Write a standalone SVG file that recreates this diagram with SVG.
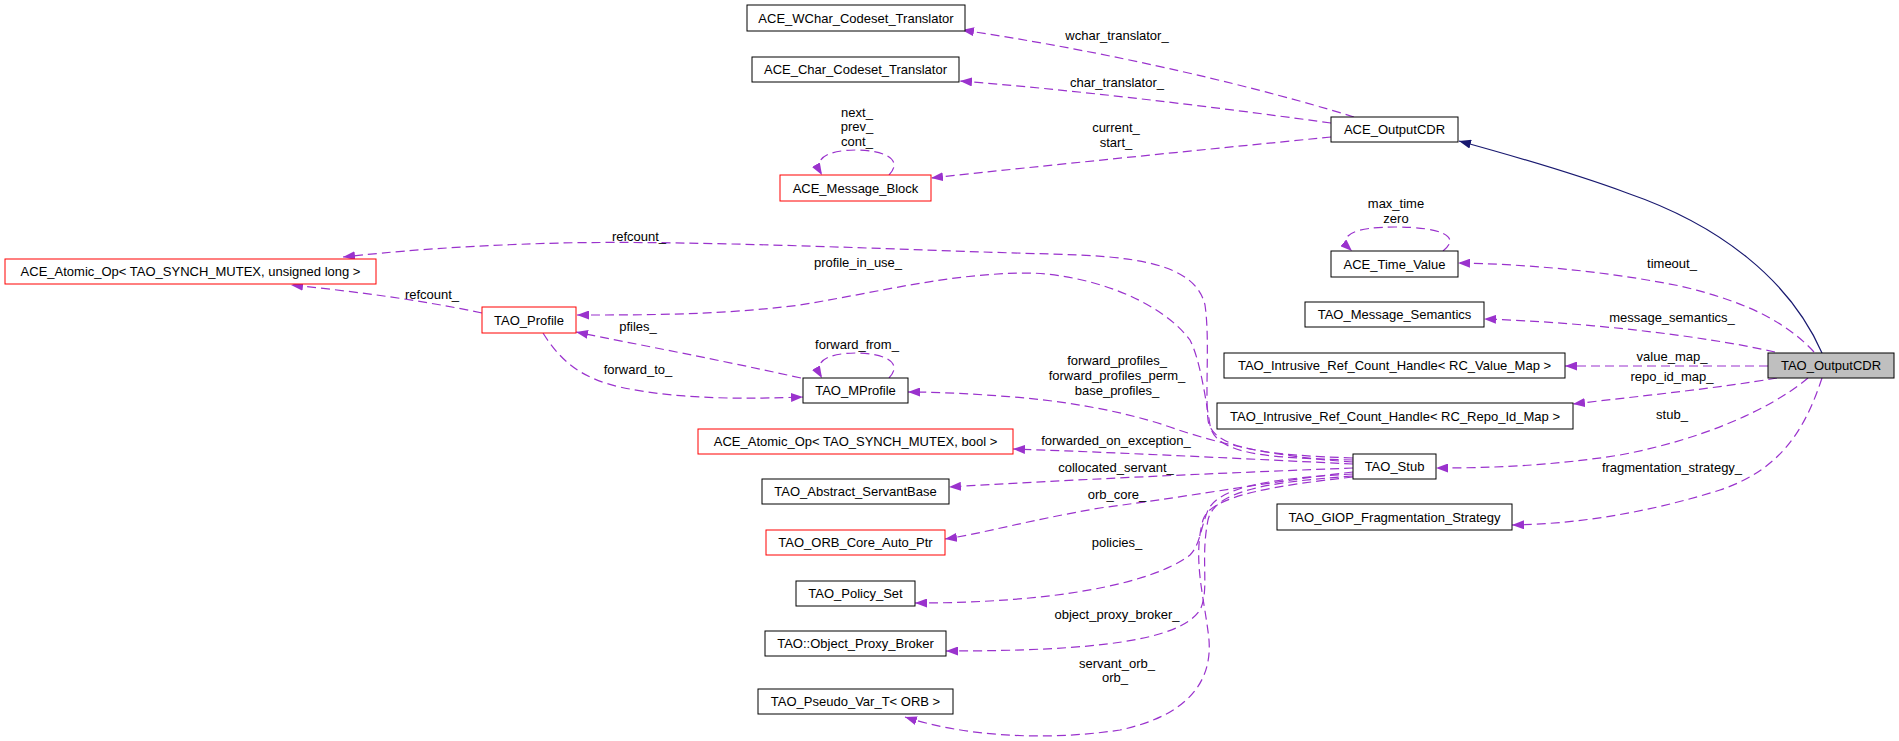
<svg xmlns="http://www.w3.org/2000/svg" width="1899" height="741" viewBox="0 0 1899 741">
<style>
text{font-family:"Liberation Sans",Arial,sans-serif;font-size:13px;fill:#000;text-anchor:middle}
.n rect{fill:#fff;stroke:#000;stroke-width:1}
.n rect.red{stroke:#ff0000}
.n rect.cur{fill:#bfbfbf}
.e path{fill:none;stroke:#9a32cd;stroke-width:1.2;stroke-dasharray:9,5;marker-end:url(#ap)}
.e path.inh{stroke:#191970;stroke-dasharray:none;marker-end:url(#an)}
</style>
<defs>
<marker id="ap" markerUnits="userSpaceOnUse" viewBox="0 0 12 9" refX="12" refY="4.5" markerWidth="12" markerHeight="9" orient="auto"><path d="M0,0 L12,4.5 L0,9 z" fill="#9a32cd"/></marker>
<marker id="an" markerUnits="userSpaceOnUse" viewBox="0 0 12 9" refX="12" refY="4.5" markerWidth="12" markerHeight="9" orient="auto"><path d="M0,0 L12,4.5 L0,9 z" fill="#191970"/></marker>
</defs>
<rect width="1899" height="741" fill="#fff"/>
<g id="edges" class="e">
<path class="inh" d="M1822,353 C1790,280 1720,225 1627,193 C1570,172 1510,155 1459,141"/>
<path d="M1814,352 C1780,315 1730,298 1680,286 C1600,270 1520,264 1458,263"/>
<path d="M1775,352 C1700,335 1580,322 1484,319"/>
<path d="M1768,366 L1565,366"/>
<path d="M1777,378 C1720,388 1640,396 1573,404"/>
<path d="M1808,378 C1770,410 1700,440 1620,455 C1550,466 1490,468 1436,468"/>
<path d="M1822,378 C1805,430 1780,470 1720,490 C1650,512 1580,524 1512,525"/>
<path d="M1354,117 C1300,100 1150,58 962,30"/>
<path d="M1331,123 C1250,112 1100,92 960,81"/>
<path d="M1331,137 C1200,150 1050,165 931,178"/>
<path d="M889,175 C905,158 880,150 857,150 C828,150 812,158 822,175"/>
<path d="M1443,251 C1462,236 1440,227 1395,227 C1355,227 1335,235 1352,251"/>
<path d="M889,378 C905,361 880,353 857,353 C828,353 812,361 822,378"/>
<path d="M482,313 C420,300 360,292 291,285"/>
<path d="M801,378 C720,360 640,345 576,332"/>
<path d="M543,333 C560,360 580,378 620,387 C680,400 750,399 803,397"/>
<path d="M1353,458 C1270,455 1212,450 1208,420 C1205,390 1210,340 1205,305 C1195,262 1130,256 1050,254 C900,250 700,240 560,243 C450,246 390,252 343,257"/>
<path d="M1353,460 C1270,458 1215,455 1210,425 C1205,395 1200,360 1190,340 C1160,300 1090,275 1030,273 C950,273 880,292 800,305 C720,315 650,315 577,315"/>
<path d="M1353,462 C1290,458 1230,448 1170,427 C1120,410 1060,400 1000,396 C960,393 930,392 908,392"/>
<path d="M1353,464 C1250,459 1130,453 1013,449"/>
<path d="M1353,468 C1250,472 1100,478 949,487"/>
<path d="M1353,472 C1280,480 1200,495 1100,508 C1030,520 980,534 945,539"/>
<path d="M1353,474 C1280,478 1220,485 1208,510 C1200,530 1200,545 1190,555 C1150,585 1050,603 915,603"/>
<path d="M1353,476 C1270,482 1215,490 1208,520 C1200,560 1210,590 1200,610 C1180,640 1100,651 946,651"/>
<path d="M1353,477 C1280,485 1210,495 1203,520 C1192,560 1205,600 1209,640 C1212,680 1190,715 1120,730 C1040,742 960,735 905,717"/>
<text x="1672" y="268">timeout_</text>
<text x="1672" y="322">message_semantics_</text>
<text x="1672" y="361">value_map_</text>
<text x="1672" y="381">repo_id_map_</text>
<text x="1672" y="419">stub_</text>
<text x="1672" y="472">fragmentation_strategy_</text>
<text x="1117" y="40">wchar_translator_</text>
<text x="1117" y="87">char_translator_</text>
<text x="1116" y="132">current_</text>
<text x="1116" y="147">start_</text>
<text x="857" y="117">next_</text>
<text x="857" y="131">prev_</text>
<text x="857" y="146">cont_</text>
<text x="1396" y="208">max_time</text>
<text x="1396" y="223">zero</text>
<text x="639" y="241">refcount_</text>
<text x="858" y="267">profile_in_use_</text>
<text x="432" y="299">refcount_</text>
<text x="638" y="331">pfiles_</text>
<text x="638" y="374">forward_to_</text>
<text x="857" y="349">forward_from_</text>
<text x="1117" y="365">forward_profiles_</text>
<text x="1117" y="380">forward_profiles_perm_</text>
<text x="1117" y="395">base_profiles_</text>
<text x="1116" y="445">forwarded_on_exception_</text>
<text x="1116" y="472">collocated_servant_</text>
<text x="1117" y="499">orb_core_</text>
<text x="1117" y="547">policies_</text>
<text x="1117" y="619">object_proxy_broker_</text>
<text x="1117" y="668">servant_orb_</text>
<text x="1115" y="682">orb_</text>
</g>
<g id="TAO_OutputCDR" class="n"><rect class="cur" x="1768" y="353" width="126" height="25"/><text x="1831" y="370">TAO_OutputCDR</text></g>
<g id="ACE_OutputCDR" class="n"><rect x="1331" y="117" width="127" height="25"/><text x="1394.5" y="134">ACE_OutputCDR</text></g>
<g id="ACE_WChar_Codeset_Translator" class="n"><rect x="747" y="5" width="218" height="26"/><text x="856" y="22.5">ACE_WChar_Codeset_Translator</text></g>
<g id="ACE_Char_Codeset_Translator" class="n"><rect x="752" y="57" width="207" height="25"/><text x="855.5" y="74">ACE_Char_Codeset_Translator</text></g>
<g id="ACE_Message_Block" class="n"><rect class="red" x="780" y="175" width="151" height="26"/><text x="855.5" y="192.5">ACE_Message_Block</text></g>
<g id="ACE_Time_Value" class="n"><rect x="1331" y="251" width="127" height="26"/><text x="1394.5" y="268.5">ACE_Time_Value</text></g>
<g id="TAO_Message_Semantics" class="n"><rect x="1305" y="302" width="179" height="25"/><text x="1394.5" y="319">TAO_Message_Semantics</text></g>
<g id="TAO_Intrusive_Ref_Count_Handle_RC_Value_Map" class="n"><rect x="1224" y="353" width="341" height="25"/><text x="1394.5" y="370">TAO_Intrusive_Ref_Count_Handle&lt; RC_Value_Map &gt;</text></g>
<g id="TAO_Intrusive_Ref_Count_Handle_RC_Repo_Id_Map" class="n"><rect x="1217" y="403" width="356" height="26"/><text x="1395" y="420.5">TAO_Intrusive_Ref_Count_Handle&lt; RC_Repo_Id_Map &gt;</text></g>
<g id="TAO_Stub" class="n"><rect x="1353" y="454" width="83" height="25"/><text x="1394.5" y="471">TAO_Stub</text></g>
<g id="TAO_GIOP_Fragmentation_Strategy" class="n"><rect x="1277" y="504" width="235" height="26"/><text x="1394.5" y="521.5">TAO_GIOP_Fragmentation_Strategy</text></g>
<g id="ACE_Atomic_Op_ulong" class="n"><rect class="red" x="5" y="259" width="371" height="25"/><text x="190.5" y="276">ACE_Atomic_Op&lt; TAO_SYNCH_MUTEX, unsigned long &gt;</text></g>
<g id="TAO_Profile" class="n"><rect class="red" x="482" y="307" width="94" height="26"/><text x="529" y="324.5">TAO_Profile</text></g>
<g id="TAO_MProfile" class="n"><rect x="803" y="378" width="105" height="25"/><text x="855.5" y="395">TAO_MProfile</text></g>
<g id="ACE_Atomic_Op_bool" class="n"><rect class="red" x="698" y="429" width="315" height="25"/><text x="855.5" y="446">ACE_Atomic_Op&lt; TAO_SYNCH_MUTEX, bool &gt;</text></g>
<g id="TAO_Abstract_ServantBase" class="n"><rect x="762" y="479" width="187" height="25"/><text x="855.5" y="496">TAO_Abstract_ServantBase</text></g>
<g id="TAO_ORB_Core_Auto_Ptr" class="n"><rect class="red" x="766" y="530" width="179" height="25"/><text x="855.5" y="547">TAO_ORB_Core_Auto_Ptr</text></g>
<g id="TAO_Policy_Set" class="n"><rect x="796" y="581" width="119" height="25"/><text x="855.5" y="598">TAO_Policy_Set</text></g>
<g id="TAO_Object_Proxy_Broker" class="n"><rect x="765" y="631" width="181" height="25"/><text x="855.5" y="648">TAO::Object_Proxy_Broker</text></g>
<g id="TAO_Pseudo_Var_T_ORB" class="n"><rect x="758" y="689" width="195" height="25"/><text x="855.5" y="706">TAO_Pseudo_Var_T&lt; ORB &gt;</text></g>
</svg>
